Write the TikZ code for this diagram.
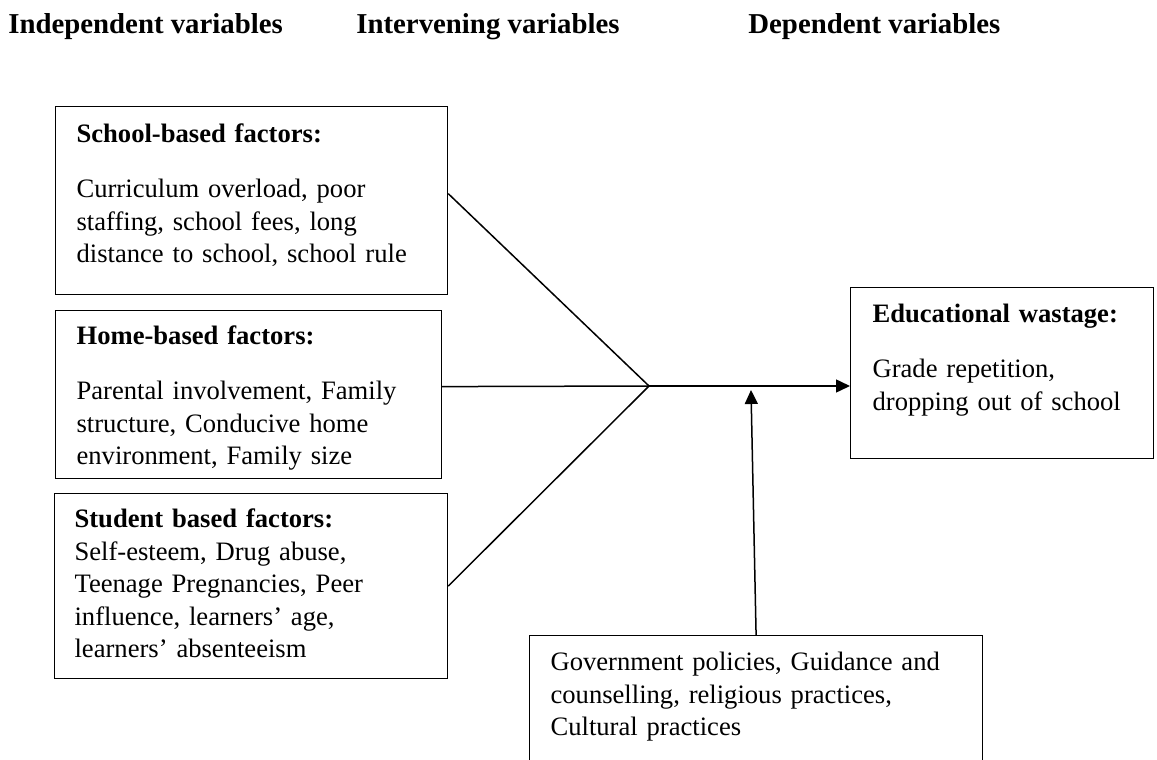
\documentclass[tikz,border=0pt]{standalone}
\usepackage{fontspec}
\setmainfont{Liberation Serif}
\usetikzlibrary{arrows.meta}
\begin{document}
\begin{tikzpicture}[x=0.5pt,y=-0.5pt,
  factor/.style={draw,line width=0.6pt,anchor=north west,align=left,inner ysep=0pt,inner xsep=10.5pt,
    font=\fontsize{13.3}{16.25}\selectfont},
  head/.style={anchor=base west,inner sep=0pt,font=\fontsize{14.4}{17}\selectfont\bfseries},
  link/.style={line width=0.75pt},
  arr/.style={line width=0.75pt,-{Triangle[length=7pt,width=6.5pt]}}]
  \useasboundingbox (0,0) rectangle (1157,760);
  \node[head] (indep) at (8,33) {Independent variables};
  \node[head] (inter) at (356,33) {Intervening variables};
  \node[head] (dep) at (748,33) {Dependent variables};
  \node[factor,text width=175pt,text height=18pt,text depth=76pt] (school) at (55,106)
    {\textbf{School-based factors:}\\[11.25pt]
     Curriculum overload, poor\\ staffing, school fees, long\\ distance to school, school rule};
  \node[factor,text width=172pt,text height=17pt,text depth=67pt] (home) at (55,310)
    {\textbf{Home-based factors:}\\[11.25pt]
     Parental involvement, Family\\ structure, Conducive home\\ environment, Family size};
  \node[factor,inner xsep=10pt,text width=176.5pt,text height=17pt,text depth=75.5pt] (student) at (54,493)
    {\textbf{Student based factors:}\\
     Self-esteem, Drug abuse,\\ Teenage Pregnancies, Peer\\ influence, learners' age,\\ learners' absenteeism};
  \node[factor,inner xsep=11pt,text width=129.5pt,text height=17.5pt,text depth=68pt] (educ) at (850,287)
    {\textbf{Educational wastage:}\\[11.25pt]
     Grade repetition,\\ dropping out of school};
  \node[factor,text width=205.5pt,text height=17.5pt,text depth=50pt] (gov) at (529,635)
    {Government policies, Guidance and\\ counselling, religious practices,\\ Cultural practices};
  % lines meet here
  \coordinate (J) at (649,386);
  \coordinate (meet) at (751,390);
  \draw[link] ([yshift=3.5pt]school.east) -- (J);
  \draw[link] ([yshift=4pt]home.east) -- (J);
  \draw[link] (student.east) -- (J);
  \draw[arr] (J) -- (J -| educ.west);
  \draw[arr] (gov.north) -- (meet);
\end{tikzpicture}
\end{document}
